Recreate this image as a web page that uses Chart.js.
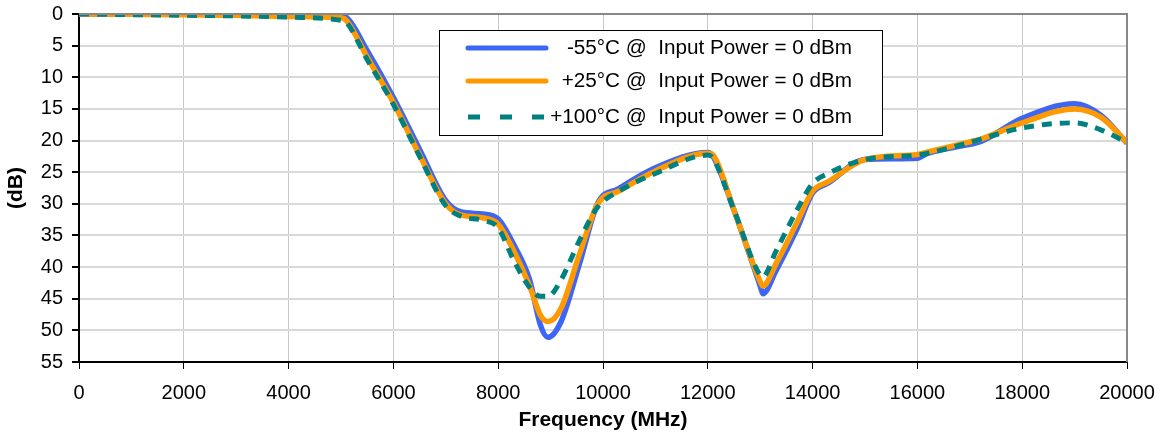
<!DOCTYPE html>
<html lang="en">
<head>
<meta charset="UTF-8">
<title>Frequency response</title>
<script src="https://cdn.jsdelivr.net/npm/chart.js"></script>
<style>
    body { margin: 0; background: #fff; }
    #box { position: relative; width: 1160px; height: 435px; }
</style>
</head>
<body>
<div id="box"><canvas id="grafico"></canvas></div>
<script>
    // frequencias (MHz) compartilhadas pelas tres curvas
    const freq = [0, 1000, 2000, 3000, 4000, 5000, 5100, 5500, 6000, 6500, 7000, 7300, 7700, 8000, 8300, 8600, 8800, 8950, 9200, 9550, 9900, 10300, 11000, 12000, 12100, 12500, 13000, 13050, 13300, 13700, 14000, 14300, 15000, 16000, 16200, 17000, 17200, 18000, 19000, 19500, 20000];

    // atenuacao (dB) de cada temperatura
    const menos55 = [0, 0, 0.05, 0.1, 0.15, 0.3, 0.5, 5.8, 13.2, 21.4, 29.5, 31.3, 31.6, 32.4, 36.5, 42, 49, 51.1, 48.6, 39.5, 29.9, 27.6, 24.3, 21.9, 22.5, 31, 43, 44.2, 40.6, 34, 28.3, 26.7, 23, 22.8, 22, 20.6, 20.2, 16.5, 14.2, 16, 20.4];
    const mais25 = [0, 0.05, 0.1, 0.2, 0.4, 0.6, 1.0, 6.8, 14, 22.3, 30, 31.8, 32.2, 33.2, 37.5, 43, 47.5, 48.6, 46.5, 38, 30, 28, 24.8, 22, 22.3, 31, 42.3, 43, 39.5, 33, 28, 26.5, 23, 22.2, 21.8, 20.2, 19.8, 17.2, 15, 16.3, 20.3];
    const mais100 = [0, 0.1, 0.2, 0.3, 0.5, 1.0, 1.3, 7.2, 14.3, 22.5, 30.3, 32, 32.6, 33.8, 39, 43.2, 44.6, 44.6, 42, 35.8, 30.5, 28, 25.2, 22.3, 22.8, 31, 41.3, 41.5, 37.5, 31, 26.8, 25.2, 23, 22.3, 22, 20.3, 19.8, 18, 17.2, 18.3, 20.3];

    const legendas = ['-55°C @  Input Power = 0 dBm', '+25°C @  Input Power = 0 dBm', '+100°C @  Input Power = 0 dBm'];
    const cores = ['#3d66f5', '#ff9900', '#008080'];

    Chart.defaults.font.family = "'Liberation Sans', Arial, sans-serif";
    Chart.defaults.font.size = 20;
    Chart.defaults.color = '#000';

    function pontos(valores) {
        return freq.map((f, i) => ({ x: f, y: valores[i] }));
    }

    // borda cinza em cima e a direita + caixa de legenda
    const moldura = {
        id: 'moldura',
        afterDatasetsDraw(chart) {
            const { ctx, chartArea: a } = chart;
            ctx.save();
            ctx.strokeStyle = '#888';
            ctx.lineWidth = 2;
            ctx.beginPath();
            ctx.moveTo(a.left, a.top);
            ctx.lineTo(a.right, a.top);
            ctx.lineTo(a.right, a.bottom);
            ctx.stroke();

            // legenda
            const bx = 439, by = 30, bw = 443, bh = 105;
            ctx.fillStyle = '#fff';
            ctx.fillRect(bx, by, bw, bh);
            ctx.strokeStyle = '#000';
            ctx.lineWidth = 1;
            ctx.strokeRect(bx + 0.5, by + 0.5, bw, bh);

            const linhas = [48, 81, 117];
            chart.data.datasets.forEach((ds, i) => {
                const y = linhas[i];
                ctx.strokeStyle = ds.borderColor;
                ctx.lineWidth = 5;
                ctx.lineCap = ds.borderDash.length ? 'butt' : 'round';
                ctx.setLineDash(ds.borderDash.length ? [12, 20] : []);
                ctx.beginPath();
                ctx.moveTo(468, y);
                ctx.lineTo(546, y);
                ctx.stroke();
                ctx.setLineDash([]);
                ctx.fillStyle = '#000';
                ctx.font = "20.7px 'Liberation Sans', Arial, sans-serif";
                ctx.textAlign = 'right';
                ctx.textBaseline = 'middle';
                ctx.fillText(ds.label, 852, y);
            });
            ctx.restore();
        }
    };

    const config = {
        type: 'line',
        data: {
            datasets: [
                { label: legendas[0], data: pontos(menos55), borderColor: cores[0], borderWidth: 5.5, borderDash: [], order: 3 },
                { label: legendas[1], data: pontos(mais25), borderColor: cores[1], borderWidth: 5.5, borderDash: [], order: 2 },
                { label: legendas[2], data: pontos(mais100), borderColor: cores[2], borderWidth: 5, borderDash: [10, 8], order: 1 }
            ]
        },
        options: {
            responsive: true,
            maintainAspectRatio: false,
            animation: false,
            layout: { padding: { top: 14, right: 33, left: 0, bottom: 0 } },
            elements: {
                point: { radius: 0 },
                line: { cubicInterpolationMode: 'monotone', fill: false }
            },
            plugins: {
                legend: { display: false },
                tooltip: { enabled: false }
            },
            scales: {
                x: {
                    type: 'linear',
                    min: 0,
                    max: 20000,
                    ticks: { stepSize: 2000, padding: 12, maxRotation: 0, callback: v => String(v) },
                    grid: { color: '#c8c8c8', lineWidth: 1, tickColor: '#000', tickLength: 7 },
                    border: { color: '#000', width: 2 },
                    title: { display: true, text: 'Frequency (MHz)', font: { weight: 'bold', size: 21 }, padding: { top: 0, bottom: 2 } },
                    afterFit(scale) {
                        scale.height = 73;
                        scale.paddingLeft = 0;
                        scale.paddingRight = 0;
                    }
                },
                y: {
                    reverse: true,
                    min: 0,
                    max: 55,
                    ticks: { stepSize: 5, padding: 9 },
                    grid: { color: '#d9d9d9', lineWidth: 2, tickColor: '#000', tickLength: 7 },
                    border: { color: '#000', width: 2 },
                    title: { display: true, text: '(dB)', font: { weight: 'bold', size: 21 }, padding: { top: 4, bottom: 0 } },
                    afterFit(scale) {
                        scale.width = 79;
                        scale.paddingTop = 0;
                        scale.paddingBottom = 0;
                    }
                }
            }
        },
        plugins: [moldura]
    };

    new Chart(document.getElementById('grafico'), config);
</script>
</body>
</html>
